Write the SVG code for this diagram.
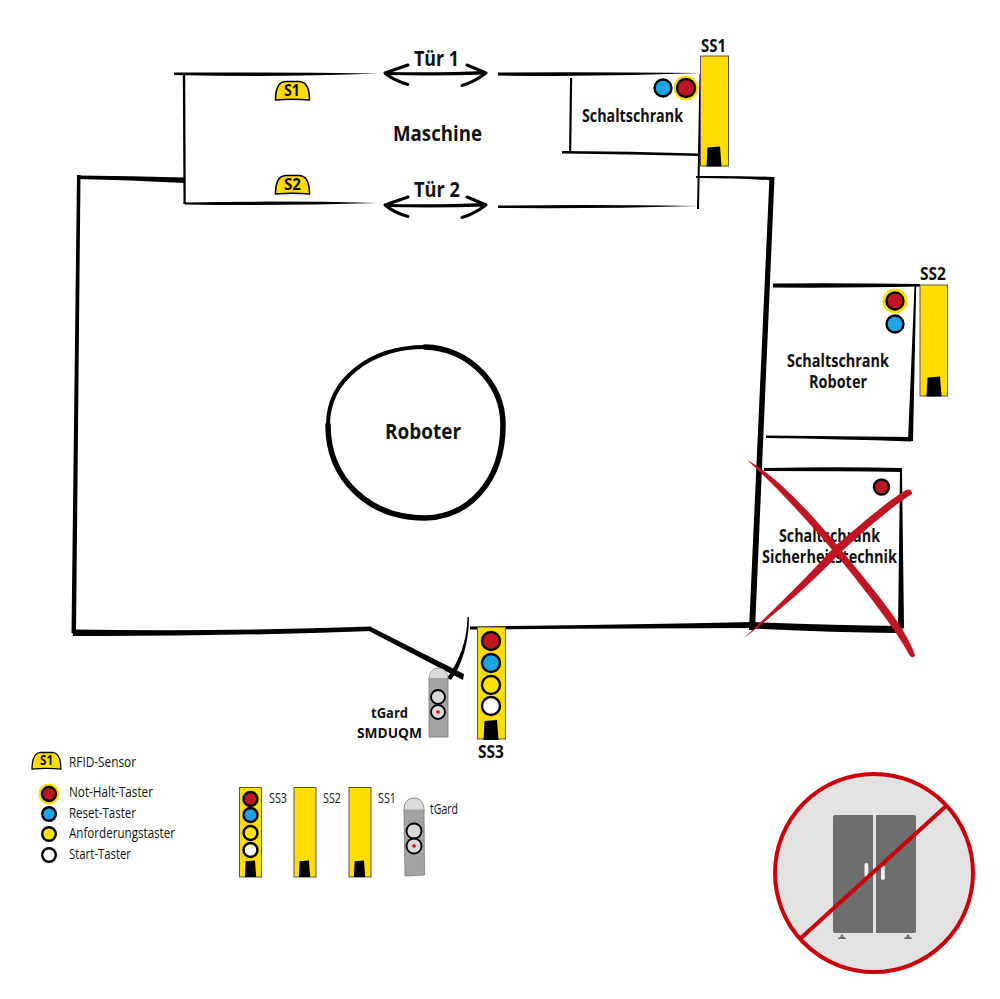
<svg xmlns="http://www.w3.org/2000/svg" xmlns:xlink="http://www.w3.org/1999/xlink" width="1000" height="999" viewBox="0 0 1000 999">
<style>
text{font-family:"Open Sans","Noto Sans","Liberation Sans",sans-serif;fill:#111}
.b{font-weight:700}
.l{font-weight:400}
.ink{fill:#000;stroke:none}
.ln{fill:none;stroke:#000;stroke-linecap:round;stroke-linejoin:round}
.y{fill:#FFDD00;stroke:#555;stroke-width:1}
.foot{fill:#000}
.btn{stroke:#000;stroke-width:2.400}
.red{fill:#BE1622}.blue{fill:#1CA5E2}.yel{fill:#FFE600}.wht{fill:#fff}
.halo{fill:#FFDD00}
.tg{fill:#A3A3A3;stroke:#777;stroke-width:.8}
.cap{fill:#DADADA}
.gb{fill:#D8D8D8;stroke:#000;stroke-width:1.800}
.x{fill:#BE1622}
</style>
<defs>
<path id="sensorShape" d="M0 19C0 8 3 1 10 .5L24 .5C31 1 34 8 34 19C23 18 11 18 0 19Z" fill="#FFDD00" stroke="#000" stroke-width="1.500"/>
<path id="door" d="M385 73L408 65M385 73C392 79 399 82 408 84.500M486 73L467 65M486 73C478 79 471 83 462 85.500" class="ln" stroke-width="3"/>
<path id="footShape" d="M.5 20L1.500 1L14 0L15.500 20Z" class="foot"/>
</defs>
<g id="connectors">
<path class="ink" d="M174 72.500Q280 72 378 73.500Q280 77.500 174 75Z"/>
<path class="ink" d="M182.800 74L185.200 74L185.800 204L183.500 204Z"/>
<path class="ink" d="M183 202.500Q280 200.500 378 203Q280 206 185 204.500Z"/>
<path class="ink" d="M78 175.500Q130 176 184 177.500L184 183Q130 180 78 179Z"/>
<path class="ink" d="M77 175L80.500 175L76 633L71.500 633Z"/>
<path class="ink" d="M72 629.500Q220 632 371 626.500L372 631Q220 636.500 73 636Z"/>
<path class="ink" d="M370 626.500L464 674L463 680L369 631Z"/>
<path class="ink" d="M467.500 617L469 617C469 640 463 664 451 680L447 678C460 660 467 640 467.500 617Z"/>
<path class="ink" d="M470 626.500Q620 625 752 622L752 628Q620 628.500 470 629.500Z"/>
<path class="ink" d="M498 72.500Q600 72 702 73Q600 77 498 75.500Z"/>
<path class="ink" d="M498 205.500Q600 204.500 698 206Q600 209 498 208Z"/>
<path class="ink" d="M570 78L572.200 78L571.200 153L569 153Z"/>
<path class="ink" d="M562 151Q630 151 699 153.500L699 156Q630 154 562 153.500Z"/>
<path class="ink" d="M699.500 74L701.500 74L699 209L697 209Z"/>
<path class="ink" d="M696 176Q740 175.500 773 177L773 180.500Q740 178 696 178Z"/>
<path class="ink" d="M769.500 177L774.500 177L755 630L749 630Z"/>
<path class="ink" d="M773 283.500Q850 283 920 284L920 286.500Q850 288 773 287.500Z"/>
<path class="ink" d="M914.500 286L916.200 286L913 441L908 441Z"/>
<path class="ink" d="M766 435.500Q840 436 911 437L911 441.500Q840 439 766 438Z"/>
<path class="ink" d="M764 468Q840 466.500 902 468L902 472Q840 471 764 471Z"/>
<path class="ink" d="M900 471L902 471L904 628L898 631Z"/>
<path class="ink" d="M750 622Q830 625 900 626L896 633Q830 632.500 752 628.500Z"/>
<path class="ln" stroke-width="5.500" d="M425 347C465 348 503 380 503 425C503 480 470 517 425 518C370 518 328 480 328 425"/>
<path class="ln" stroke-width="4" d="M328 425C328 380 370 347 425 347"/>
<use xlink:href="#door" href="#door"/>
<path class="ink" d="M386 72Q440 73 485 71L485 74.500Q440 76 386 75Z"/>
<use xlink:href="#door" href="#door" y="132"/>
<path class="ink" d="M386 204Q440 205 485 203L485 206.500Q440 208 386 207Z"/>
</g>
<g id="machine"><text class="b" x="393" y="141" font-size="21" textLength="89" lengthAdjust="spacingAndGlyphs">Maschine</text></g>
<g id="door1"><text class="b" x="414" y="66" font-size="21" textLength="45" lengthAdjust="spacingAndGlyphs">Tür 1</text></g>
<g id="door2"><text class="b" x="414" y="197" font-size="21" textLength="46" lengthAdjust="spacingAndGlyphs">Tür 2</text></g>
<g id="sensor-s1"><use xlink:href="#sensorShape" href="#sensorShape" x="275.500" y="81"/><text class="b" x="284" y="96" font-size="15.500" textLength="16" lengthAdjust="spacingAndGlyphs">S1</text></g>
<g id="sensor-s2"><use xlink:href="#sensorShape" href="#sensorShape" x="275.500" y="175"/><text class="b" x="284" y="190" font-size="15.500" textLength="17" lengthAdjust="spacingAndGlyphs">S2</text></g>
<g id="schaltschrank"><text class="b" x="582" y="122" font-size="17" textLength="101" lengthAdjust="spacingAndGlyphs">Schaltschrank</text>
<circle class="blue btn" cx="663" cy="88" r="8.500"/><circle class="halo" cx="686" cy="88" r="12.500"/><circle class="red btn" cx="686" cy="88" r="9"/></g>
<g id="ss1"><rect class="y" x="700.500" y="56" width="28" height="110"/><use xlink:href="#footShape" href="#footShape" x="706" y="146.500"/><text class="b" x="701" y="52" font-size="18" textLength="25" lengthAdjust="spacingAndGlyphs">SS1</text></g>
<g id="schaltschrank-roboter"><text class="b" x="787" y="367" font-size="17" textLength="102" lengthAdjust="spacingAndGlyphs">Schaltschrank</text><text class="b" x="809" y="388" font-size="17" textLength="58" lengthAdjust="spacingAndGlyphs">Roboter</text>
<circle class="halo" cx="895" cy="301" r="12.500"/><circle class="red btn" cx="895" cy="301" r="8.500"/><circle class="blue btn" cx="895" cy="324" r="8.500"/></g>
<g id="ss2"><rect class="y" x="920" y="285" width="27.500" height="111"/><use xlink:href="#footShape" href="#footShape" x="926" y="376.500"/><text class="b" x="920" y="280" font-size="18" textLength="26" lengthAdjust="spacingAndGlyphs">SS2</text></g>
<g id="schaltschrank-sicherheit"><text class="b" x="779" y="542" font-size="17" textLength="101" lengthAdjust="spacingAndGlyphs">Schaltschrank</text><text class="b" x="762" y="563" font-size="17" textLength="135" lengthAdjust="spacingAndGlyphs">Sicherheitstechnik</text>
<circle class="red btn" cx="881.500" cy="487" r="7.500"/></g>
<g id="cross">
<path class="x" d="M747 460C770 472 800 500 838 546C870 585 905 625 915 655Q914 659 910 656C895 628 865 590 835 553C805 518 775 485 747 460Z"/>
<path class="x" d="M743 639C775 608 800 585 834 547C860 525 885 503 906 490Q912 488 912 494C890 508 865 530 840 553C810 585 780 610 743 639Z"/>
</g>
<g id="roboter"><text class="b" x="385" y="439" font-size="22" textLength="76" lengthAdjust="spacingAndGlyphs">Roboter</text></g>
<g id="tgard"><path class="tg" d="M429 680C429 672 433 668 438.500 668C444 668 448 672 448 680L448 737L429 737Z"/><path class="cap" d="M429.500 678C429.500 672 433 668.500 438.500 668.500C444 668.500 447.500 672 447.500 678Z"/>
<circle class="gb" cx="438" cy="697" r="7"/><circle class="gb" cx="438" cy="712" r="7"/><circle cx="438" cy="712" r="1.800" fill="#E30613"/>
<text class="b" x="371" y="717.500" font-size="14.500" textLength="37" lengthAdjust="spacingAndGlyphs">tGard</text><text class="b" x="357" y="738" font-size="14.500" textLength="65" lengthAdjust="spacingAndGlyphs">SMDUQM</text></g>
<g id="ss3"><rect class="y" x="477.500" y="627" width="28" height="112"/>
<circle class="red btn" cx="491" cy="641" r="9"/><circle class="blue btn" cx="491" cy="663" r="9"/><circle class="yel btn" cx="491" cy="685" r="9"/><circle class="wht btn" cx="491" cy="706" r="9"/>
<use xlink:href="#footShape" href="#footShape" x="483" y="720"/><text class="b" x="478" y="758" font-size="18" textLength="26" lengthAdjust="spacingAndGlyphs">SS3</text></g>
<g id="legend">
<use xlink:href="#sensorShape" href="#sensorShape" transform="translate(32 752) scale(.85 .9)"/>
<text class="b" x="40" y="765" font-size="13.500" textLength="13" lengthAdjust="spacingAndGlyphs">S1</text>
<text class="l" x="69" y="767" font-size="14.500" textLength="67" lengthAdjust="spacingAndGlyphs">RFID-Sensor</text>
<circle class="halo" cx="49" cy="794" r="10.500"/><circle class="red btn" cx="49" cy="794" r="7"/>
<text class="l" x="69" y="797" font-size="14.500" textLength="84" lengthAdjust="spacingAndGlyphs">Not-Halt-Taster</text>
<circle class="blue btn" cx="49" cy="814" r="6.800"/>
<text class="l" x="69" y="818" font-size="14.500" textLength="67" lengthAdjust="spacingAndGlyphs">Reset-Taster</text>
<circle class="yel btn" cx="49" cy="834" r="6.800"/>
<text class="l" x="69" y="838" font-size="14.500" textLength="106" lengthAdjust="spacingAndGlyphs">Anforderungstaster</text>
<circle class="wht btn" cx="49" cy="855" r="6.800"/>
<text class="l" x="69" y="859" font-size="14.500" textLength="62" lengthAdjust="spacingAndGlyphs">Start-Taster</text>
</g>
<g id="legend-ss3"><rect class="y" x="239.500" y="787.500" width="22" height="89.500"/>
<circle class="red btn" cx="250.500" cy="799" r="7"/><circle class="blue btn" cx="250.500" cy="815" r="7"/><circle class="yel btn" cx="250.500" cy="833" r="7"/><circle class="wht btn" cx="250.500" cy="850" r="7"/>
<use xlink:href="#footShape" href="#footShape" transform="translate(244.500 860.500) scale(.75 .82)"/>
<text class="l" x="269" y="803" font-size="14.500" textLength="18" lengthAdjust="spacingAndGlyphs">SS3</text></g>
<g id="legend-ss2"><rect class="y" x="294" y="787.500" width="22" height="89.500"/><use xlink:href="#footShape" href="#footShape" transform="translate(298.500 860.500) scale(.75 .82)"/>
<text class="l" x="323" y="803" font-size="14.500" textLength="18" lengthAdjust="spacingAndGlyphs">SS2</text></g>
<g id="legend-ss1"><rect class="y" x="349" y="787.500" width="22" height="89.500"/><use xlink:href="#footShape" href="#footShape" transform="translate(353.500 860.500) scale(.75 .82)"/>
<text class="l" x="378" y="803" font-size="14.500" textLength="18" lengthAdjust="spacingAndGlyphs">SS1</text></g>
<g id="legend-tgard"><path class="tg" d="M404 810C404 802 408 798 414 798C420 798 424 802 424 810L424.500 875L405 876Z"/><path class="cap" d="M404.500 809.500C404.500 802 408 798.500 414 798.500C420 798.500 423.500 802 423.500 809.500Z"/>
<circle class="gb" cx="414" cy="831" r="7.500"/><circle class="gb" cx="414" cy="846" r="7.500"/><circle cx="414" cy="846" r="1.800" fill="#E30613"/>
<text class="l" x="430" y="814" font-size="14.500" textLength="28" lengthAdjust="spacingAndGlyphs">tGard</text></g>
<g id="no-cabinet">
<circle cx="874" cy="873" r="99" fill="#E2E2E2" stroke="#C8000A" stroke-width="4"/>
<path fill="#6E6E6E" d="M835 815H873V933H835Q833 933 833 931V817Q833 815 835 815ZM876 815H914Q916 815 916 817V931Q916 933 914 933H876Z"/>
<rect x="864.500" y="863" width="3.800" height="14" rx="1.800" fill="#F2F2F2"/><rect x="881" y="866" width="3.800" height="14" rx="1.800" fill="#F2F2F2"/>
<path fill="#6E6E6E" d="M838 939Q838 937 840.500 937L841 934.500H843L843.500 937Q846 937 846 939ZM904 939Q904 937 906.500 937L907 934.500H909L909.500 937Q912 937 912 939Z"/>
<path d="M801 938L945 807" stroke="#C8000A" stroke-width="4" fill="none"/>
</g>
</svg>
